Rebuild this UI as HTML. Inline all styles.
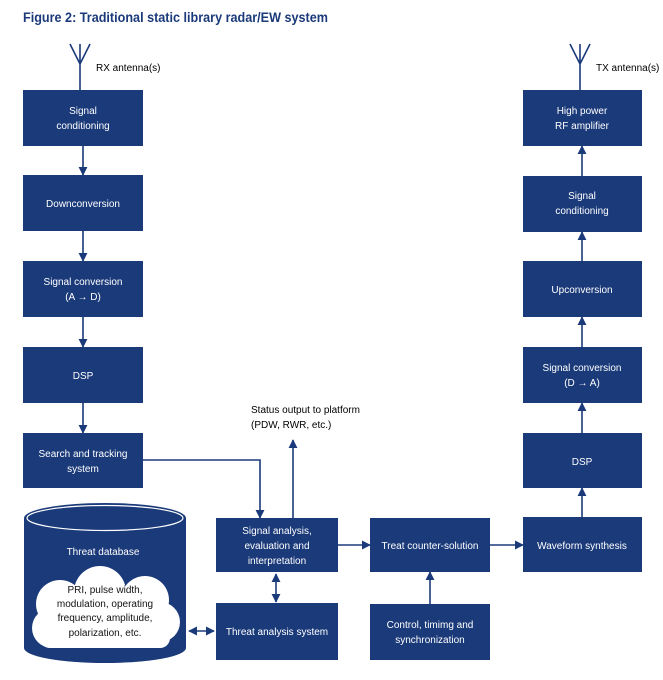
<!DOCTYPE html>
<html><head><style>
body{margin:0;background:#fff;}
svg text{font-family:"Liberation Sans Narrow","Liberation Sans",sans-serif;}
</style></head><body>
<svg width="663" height="675" viewBox="0 0 663 675" xmlns="http://www.w3.org/2000/svg">
<defs>
<marker id="a" viewBox="0 0 10 10" refX="9" refY="5" markerWidth="9" markerHeight="9" markerUnits="userSpaceOnUse" orient="auto-start-reverse"><path d="M0,0L10,5L0,10z" fill="#1b3a7a"/></marker>
</defs>
<text x="23" y="22" font-size="14" font-weight="bold" fill="#1b3a7a" textLength="305" lengthAdjust="spacingAndGlyphs">Figure 2: Traditional static library radar/EW system</text>
<g stroke="#1b3a7a" stroke-width="1.6" fill="none">
<path d="M70,44L80,64L90,44M80,44V90"/>
<path d="M570,44L580,64L590,44M580,44V90"/>
</g>
<text x="96" y="71" font-size="10">RX antenna(s)</text>
<text x="596" y="71" font-size="10">TX antenna(s)</text>
<g fill="#1b3a7a">
<rect x="23" y="90" width="120" height="56"/>
<rect x="23" y="175" width="120" height="56"/>
<rect x="23" y="261" width="120" height="56"/>
<rect x="23" y="347" width="120" height="56"/>
<rect x="23" y="433" width="120" height="55"/>
<rect x="523" y="90" width="119" height="56"/>
<rect x="523" y="176" width="119" height="56"/>
<rect x="523" y="261" width="119" height="56"/>
<rect x="523" y="347" width="119" height="56"/>
<rect x="523" y="433" width="119" height="55"/>
<rect x="523" y="517" width="119" height="55"/>
<rect x="216" y="518" width="122" height="54"/>
<rect x="216" y="603" width="122" height="57"/>
<rect x="370" y="518" width="120" height="54"/>
<rect x="370" y="604" width="120" height="56"/>
<path d="M24,518V648A81,15 0 0 0 186,648V518z"/>
<ellipse cx="105" cy="518" rx="81" ry="15"/>
</g>
<ellipse cx="105" cy="518" rx="78" ry="12.5" fill="none" stroke="#fff" stroke-width="1.2"/>
<g fill="#fff">
<circle cx="60" cy="604" r="24"/>
<circle cx="100" cy="592" r="26"/>
<circle cx="145" cy="600" r="24"/>
<circle cx="160" cy="622" r="20"/>
<circle cx="52" cy="628" r="20"/>
<rect x="40" y="600" width="130" height="48" rx="10"/>
</g>
<g stroke="#1b3a7a" stroke-width="1.6" fill="none" marker-end="url(#a)">
<path d="M83,146V175"/><path d="M83,231V261"/><path d="M83,317V347"/><path d="M83,403V433"/>
<path d="M582,176V146"/><path d="M582,261V232"/><path d="M582,347V317"/><path d="M582,433V403"/><path d="M582,517V488"/>
<path d="M143,460H260V518"/>
<path d="M293,518V440"/>
<path d="M338,545H370"/>
<path d="M490,545H523"/>
<path d="M430,604V572"/>
<path d="M276,574V602" marker-start="url(#a)"/>
<path d="M189,631H214" marker-start="url(#a)"/>
</g>
<g fill="#fff" font-size="10" text-anchor="middle">
<text x="83" y="114">Signal</text><text x="83" y="129">conditioning</text>
<text x="83" y="207">Downconversion</text>
<text x="83" y="285">Signal conversion</text><text x="83" y="300">(A → D)</text>
<text x="83" y="379">DSP</text>
<text x="83" y="457">Search and tracking</text><text x="83" y="472">system</text>
<text x="582" y="114">High power</text><text x="582" y="129">RF amplifier</text>
<text x="582" y="199">Signal</text><text x="582" y="214">conditioning</text>
<text x="582" y="293">Upconversion</text>
<text x="582" y="371">Signal conversion</text><text x="582" y="386">(D → A)</text>
<text x="582" y="465">DSP</text>
<text x="582" y="549">Waveform synthesis</text>
<text x="277" y="534">Signal analysis,</text><text x="277" y="549">evaluation and</text><text x="277" y="564">interpretation</text>
<text x="277" y="635">Threat analysis system</text>
<text x="430" y="549">Treat counter-solution</text>
<text x="430" y="628">Control, timimg and</text><text x="430" y="643">synchronization</text>
<text x="103" y="555">Threat database</text>
</g>
<g fill="#111" font-size="10" text-anchor="middle">
<text x="105" y="593">PRI, pulse width,</text>
<text x="105" y="607">modulation, operating</text>
<text x="105" y="621">frequency, amplitude,</text>
<text x="105" y="636">polarization, etc.</text>
</g>
<text x="251" y="413" font-size="10">Status output to platform</text>
<text x="251" y="428" font-size="10">(PDW, RWR, etc.)</text>
</svg>
</body></html>
